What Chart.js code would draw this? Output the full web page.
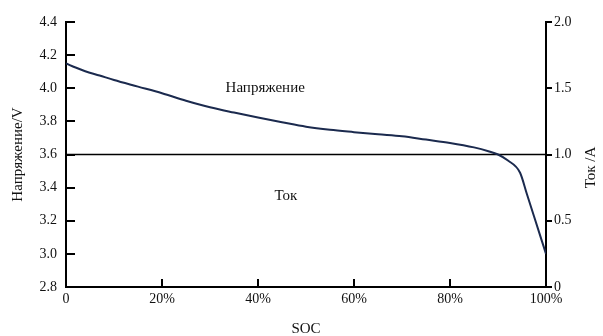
<!DOCTYPE html>
<html><head><meta charset="utf-8">
<script src="https://cdn.jsdelivr.net/npm/chart.js@4.4.1/dist/chart.umd.min.js"></script>
<style>html,body{margin:0;padding:0;background:#fff}</style>
</head><body>
<canvas id="c" width="603" height="336"></canvas>
<script>
// ---- data ----
const socPercent = [0, 2, 4, 7, 10, 15, 20, 25, 30, 35, 40, 45, 50, 55, 60, 65, 70, 75, 80, 85, 88, 90, 92, 94.6, 96, 97.5, 100];
const voltage    = [4.15, 4.125, 4.103, 4.077, 4.05, 4.01, 3.97, 3.925, 3.885, 3.853, 3.823, 3.795, 3.768, 3.749, 3.735, 3.722, 3.71, 3.69, 3.67, 3.643, 3.62, 3.60, 3.565, 3.49, 3.363, 3.227, 3.0];
const currentSoc = [0, 100];
const currentAmp = [1.0, 1.0];
const socTicks = [0, 20, 40, 60, 80, 100];
const voltTicks = [2.8, 3.0, 3.2, 3.4, 3.6, 3.8, 4.0, 4.2, 4.4];
const ampTicks = [0, 0.5, 1.0, 1.5, 2.0];
const seriesLabels = ['Напряжение', 'Ток'];
const axisTitles = { x: 'SOC', y: 'Напряжение/V', y1: 'Ток /A' };

const FONT = "'Liberation Serif', 'Times New Roman', serif";
Chart.defaults.font.family = FONT;
Chart.defaults.color = '#111';

const pts = (xs, ys) => xs.map((x, i) => ({ x, y: ys[i] }));

const customDraw = {
  id: 'customDraw',
  afterDraw(chart) {
    const { ctx, scales } = chart;
    const x = scales.x, y = scales.y, y1 = scales.y1;
    ctx.save();
    ctx.strokeStyle = '#000';
    ctx.lineWidth = 2;
    socTicks.forEach(v => {
      if (v === 0 || v === 100) return;
      const px = Math.round(x.getPixelForValue(v));
      ctx.beginPath(); ctx.moveTo(px, y.bottom); ctx.lineTo(px, y.bottom - 8); ctx.stroke();
    });
    voltTicks.forEach(v => {
      if (v === 2.8) return;
      const py = Math.round(y.getPixelForValue(v));
      ctx.beginPath(); ctx.moveTo(x.left, py); ctx.lineTo(x.left + 9, py); ctx.stroke();
    });
    ctx.fillStyle = '#111';
    ctx.font = '15px ' + FONT;
    ctx.textAlign = 'center'; ctx.textBaseline = 'middle';
    ctx.fillText(seriesLabels[0], x.getPixelForValue(41.5), y.getPixelForValue(4.0));
    ctx.fillText(seriesLabels[1], x.getPixelForValue(45.8), y1.getPixelForValue(0.69));
    ctx.save();
    ctx.translate(591, (y1.top + y1.bottom) / 2 + 13);
    ctx.rotate(-Math.PI / 2);
    ctx.fillText(axisTitles.y1, 0, 0);
    ctx.restore();
    ctx.restore();
  }
};

new Chart(document.getElementById('c'), {
  type: 'scatter',
  data: {
    datasets: [
      {
        label: seriesLabels[0],
        data: pts(socPercent, voltage),
        yAxisID: 'y',
        showLine: true,
        borderColor: '#1b2a4e',
        borderWidth: 2,
        pointRadius: 0,
        cubicInterpolationMode: 'monotone',
        fill: false
      },
      {
        label: seriesLabels[1],
        data: pts(currentSoc, currentAmp),
        yAxisID: 'y1',
        showLine: true,
        borderColor: '#000',
        borderWidth: 1.6,
        pointRadius: 0,
        fill: false
      }
    ]
  },
  options: {
    responsive: false,
    animation: false,
    layout: { padding: { top: 22, left: 0, right: 0, bottom: 0 } },
    plugins: { legend: { display: false }, tooltip: { enabled: false } },
    scales: {
      x: {
        type: 'linear', min: 0, max: 100,
        afterBuildTicks: s => { s.ticks = socTicks.map(v => ({ value: v })); },
        afterFit: s => { s.height = 49; },
        grid: { drawOnChartArea: false, drawTicks: false },
        border: { display: true, color: '#000', width: 2 },
        ticks: { padding: 4, font: { size: 14 }, color: '#111', maxRotation: 0,
          callback: v => v === 0 ? '0' : v + '%' },
        title: { display: true, text: axisTitles.x, font: { size: 15 }, color: '#111', padding: { top: 0, bottom: -2 } }
      },
      y: {
        type: 'linear', position: 'left', min: 2.8, max: 4.4,
        afterBuildTicks: s => { s.ticks = voltTicks.map(v => ({ value: v })); },
        afterFit: s => { s.width = 66; },
        grid: { drawOnChartArea: false, drawTicks: false },
        border: { display: true, color: '#000', width: 2 },
        ticks: { padding: 9, font: { size: 14 }, color: '#111', callback: v => v.toFixed(1) },
        title: { display: true, text: axisTitles.y, font: { size: 15 }, color: '#111', padding: { top: 9, bottom: 0 } }
      },
      y1: {
        type: 'linear', position: 'right', min: 0, max: 2.0,
        afterBuildTicks: s => { s.ticks = ampTicks.map(v => ({ value: v })); },
        afterFit: s => { s.width = 57; },
        grid: { drawOnChartArea: false, drawTicks: true, tickLength: 6, color: '#000', lineWidth: 2 },
        border: { display: true, color: '#000', width: 2 },
        ticks: { padding: 2, font: { size: 14 }, color: '#111', callback: v => v === 0 ? '0' : v.toFixed(1) }
      }
    }
  },
  plugins: [customDraw]
});
</script>
</body></html>
